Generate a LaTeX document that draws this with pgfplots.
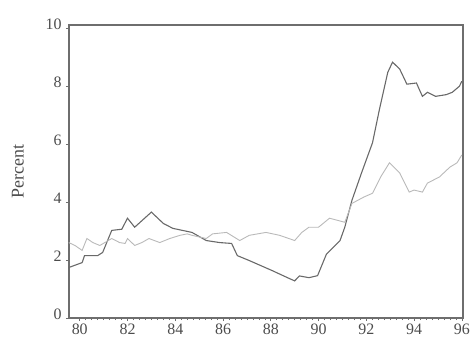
\documentclass[border=0pt]{standalone}
\usepackage{pgfplots}
\pgfplotsset{compat=1.18}
\usepackage{fontspec}
\setmainfont{Liberation Serif}
\definecolor{darkline}{RGB}{105,105,105}
\definecolor{lightline}{RGB}{185,185,185}
\definecolor{frame}{RGB}{110,110,110}
\begin{document}
\begin{tikzpicture}
\path[use as bounding box] (-69bp,-25bp) rectangle (403bp,318bp);
\begin{axis}[
  at={(0,0)}, anchor=south west,
  scale only axis, width=394bp, height=293bp,
  xmin=79.55, xmax=96.05, ymin=0, ymax=10.1,
  xtick={80,82,...,96}, ytick={0,2,...,10},
  minor x tick num=7,
  tick align=outside, major tick length=3bp, minor tick length=2bp,
  xtick pos=bottom, ytick pos=left,
  axis line style={frame, line width=1.2pt},
  tick style={frame, line width=0.6pt},
  ticklabel style={font=\fontsize{16}{16}\selectfont, text=black!70},
  xticklabel style={yshift=1bp},
  /pgf/number format/assume math mode=true,
  ylabel={Percent}, ylabel style={font=\fontsize{18}{18}\selectfont, text=black!70, anchor=center, at={(axis description cs:-0.13,0.5)}},
  yticklabel style={yshift=4bp, xshift=-1bp},
  clip=false,
]
\addplot[darkline, line width=1.1pt] coordinates {
(79.54,1.74) (80.1,1.91) (80.2,2.15) (80.75,2.15) (80.96,2.26) (81.34,3.02) (81.76,3.06) (82.0,3.44) (82.3,3.13) (83.0,3.65) (83.5,3.26) (83.9,3.09) (84.7,2.95) (85.3,2.67) (85.86,2.6) (86.36,2.57) (86.6,2.15) (87.1,1.98) (88.07,1.63) (88.7,1.39) (89.0,1.28) (89.2,1.45) (89.6,1.39) (89.96,1.46) (90.33,2.2) (90.9,2.67) (91.1,3.13) (91.4,4.06) (91.8,5.0) (92.26,6.04) (92.55,7.19) (92.9,8.47) (93.1,8.82) (93.4,8.58) (93.7,8.06) (94.1,8.1) (94.35,7.64) (94.56,7.78) (94.9,7.64) (95.35,7.7) (95.6,7.78) (95.9,7.99) (96.0,8.16)
};
\addplot[lightline, line width=0.9pt] coordinates {
(79.54,2.6) (79.8,2.5) (80.1,2.33) (80.3,2.74) (80.55,2.6) (80.84,2.5) (81.05,2.6) (81.34,2.74) (81.67,2.6) (81.9,2.57) (82.0,2.74) (82.3,2.5) (82.6,2.6) (82.9,2.74) (83.35,2.6) (83.77,2.74) (84.2,2.85) (84.5,2.9) (84.7,2.85) (85.3,2.74) (85.56,2.9) (86.15,2.95) (86.7,2.67) (87.1,2.85) (87.8,2.95) (88.37,2.85) (89.0,2.67) (89.3,2.95) (89.6,3.13) (90.0,3.13) (90.46,3.44) (91.1,3.3) (91.4,3.95) (91.9,4.17) (92.26,4.3) (92.6,4.86) (92.97,5.35) (93.4,5.0) (93.8,4.34) (94.0,4.41) (94.35,4.34) (94.56,4.65) (95.06,4.86) (95.5,5.2) (95.8,5.35) (96.0,5.62)
};
\end{axis}
\end{tikzpicture}
\end{document}
